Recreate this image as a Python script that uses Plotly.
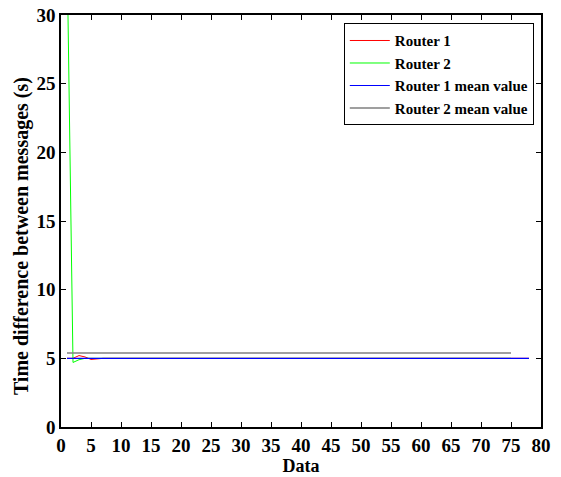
import plotly.graph_objects as go

# Router 1 data (x = 1..78)
r1_x = list(range(1, 79))
r1_y = [5.0, 5.0, 5.2, 5.1, 4.92, 4.98] + [5.0] * 72

# Router 2 data (x = 1..75)
r2_x = list(range(1, 76))
r2_y = [35.0, 4.7, 4.9, 5.0] + [5.0] * 71

r1_mean = sum(r1_y) / len(r1_y)
r2_mean = sum(r2_y) / len(r2_y)

x_ticks = list(range(0, 81, 5))
y_ticks = list(range(0, 31, 5))

FF = "Liberation Serif"

fig = go.Figure()
fig.add_trace(go.Scatter(x=r1_x, y=r1_y, mode="lines", name="Router 1",
                         line=dict(color="#ff0000", width=1)))
fig.add_trace(go.Scatter(x=r2_x, y=r2_y, mode="lines", name="Router 2",
                         line=dict(color="#00ff00", width=1)))
fig.add_trace(go.Scatter(x=[r1_x[0], r1_x[-1]], y=[r1_mean, r1_mean], mode="lines",
                         name="Router 1 mean value", line=dict(color="#0000ff", width=1.2)))
fig.add_trace(go.Scatter(x=[r2_x[0], r2_x[-1]], y=[r2_mean, r2_mean], mode="lines",
                         name="Router 2 mean value", line=dict(color="#7f7f7f", width=1.5)))

tick_font = dict(family=FF, size=19, color="black", weight="bold")
title_font = dict(family=FF, size=18, color="black", weight="bold")

axis_common = dict(showgrid=False, zeroline=False, showline=True, linecolor="black",
                   linewidth=1.5, mirror="ticks", ticks="inside", ticklen=5,
                   tickcolor="black", automargin=False, tickfont=tick_font)

fig.update_xaxes(range=[0, 80], tickvals=x_ticks,
                 title=dict(text="Data", font=title_font, standoff=0),
                 **axis_common)
fig.update_yaxes(range=[0, 30], tickvals=y_ticks, **axis_common)

fig.add_annotation(text="Time difference between messages (s)", textangle=-90,
                   xref="paper", yref="paper", x=-0.081, y=0.4636,
                   xanchor="center", yanchor="middle", showarrow=False,
                   font=dict(family=FF, size=20, color="black", weight="bold"))

fig.update_layout(
    width=561, height=477,
    margin=dict(l=61, r=20, t=15, b=50),
    plot_bgcolor="white", paper_bgcolor="white",
    font=dict(family=FF, color="black"),
    showlegend=True,
    legend=dict(x=0.985, y=0.98, xanchor="right", yanchor="top",
                bgcolor="white", bordercolor="black", borderwidth=1,
                font=dict(family=FF, size=15, color="black", weight="bold"),
                tracegroupgap=0, itemwidth=40),
)

fig.write_html("out.html", post_script="document.body.style.margin='0';",
               config={"displayModeBar": False})
